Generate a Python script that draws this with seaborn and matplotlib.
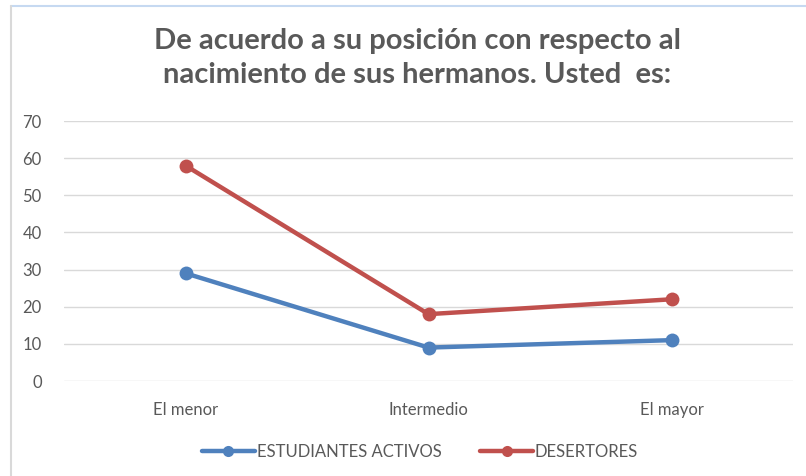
import seaborn as sns
import matplotlib.pyplot as plt
import pandas as pd
from matplotlib.lines import Line2D

# ------------------------------------------------------------
# Data
# ------------------------------------------------------------
categorias = ["El menor", "Intermedio", "El mayor"]
activos = [29, 9, 11]
desertores = [58, 18, 22]
series = ["ESTUDIANTES ACTIVOS", "DESERTORES"]
y_ticks = [0, 10, 20, 30, 40, 50, 60, 70]

df = pd.DataFrame({
    "categoria": categorias * 2,
    "valor": activos + desertores,
    "serie": [series[0]] * 3 + [series[1]] * 3,
})

# ------------------------------------------------------------
# Plot
# ------------------------------------------------------------
sns.set_style("white")
plt.rcParams['font.family'] = ['Lato', 'DejaVu Sans']

gris = "#595959"
fig = plt.figure(figsize=(8.06, 4.76), dpi=100)
ax = fig.add_axes([64/806, 1 - 381/476, 729/806, 260/476])

sns.lineplot(data=df, x="categoria", y="valor", hue="serie",
             palette=["#4f81bd", "#c0504d"], marker="o", markersize=10,
             markeredgewidth=0, linewidth=3.2, sort=False, ax=ax)

ax.set_xlim(-0.5, 2.5)
ax.set_ylim(0, 70)
ax.set_yticks(y_ticks)
ax.grid(axis="y", color="#d9d9d9", linewidth=1)
ax.set_axisbelow(True)
for s in ax.spines.values():
    s.set_visible(False)
ax.tick_params(axis="both", length=0, labelsize=12, colors=gris, pad=16)
ax.tick_params(axis="x", pad=15)
ax.set_xlabel("")
ax.set_ylabel("")

leg = ax.legend(loc="center", bbox_to_anchor=(420/806, 1 - 452/476),
                bbox_transform=fig.transFigure, ncol=2, frameon=False,
                fontsize=12, labelcolor=gris, handlelength=3.2,
                handletextpad=0.1, columnspacing=2.3)
for h in leg.get_lines():
    h.set_markersize(8)

fig.text(417/806, 1 - 58/476,
         "De acuerdo a su posición con respecto al\nnacimiento de sus hermanos. Usted  es:",
         ha="center", va="center", fontsize=21, fontweight="bold",
         color=gris, linespacing=1.4)

# chart border (partially visible)
fig.add_artist(Line2D([10.5/806, 1], [1 - 6/476, 1 - 6/476],
                      transform=fig.transFigure, color="#c6d9f1", linewidth=1.5))
fig.add_artist(Line2D([10.5/806, 10.5/806], [0, 1 - 6/476],
                      transform=fig.transFigure, color="#d9d9d9", linewidth=1.5))

plt.savefig("out.png", dpi=100)
